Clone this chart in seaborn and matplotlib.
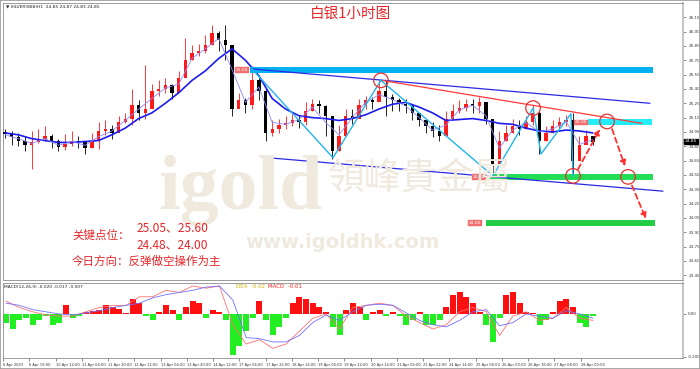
import numpy as np
import pandas as pd
import matplotlib
matplotlib.use("Agg")
import matplotlib.pyplot as plt
import seaborn as sns
from matplotlib.patches import Rectangle

sns.set_theme(style="white")
plt.rcParams['font.family'] = ['Noto Sans CJK SC', 'DejaVu Sans']

# ---------------- data ----------------
close = [24.93, 24.90, 24.86, 24.81, 24.84, 24.88, 24.91, 24.86, 24.79, 24.82,
         24.86, 24.84, 24.78, 24.86, 24.96, 24.98, 24.94, 25.05, 25.09, 25.23,
         25.15, 25.19, 25.38, 25.40, 25.44, 25.36, 25.51, 25.70, 25.78, 25.80,
         25.86, 25.99, 25.91, 25.86, 25.19, 25.28, 25.23, 25.49, 25.38, 24.94,
         24.98, 25.02, 25.04, 25.07, 25.05, 25.17, 25.24, 25.22, 25.12, 24.75,
         24.91, 25.12, 25.09, 25.23, 25.28, 25.26, 25.38, 25.32, 25.28, 25.24,
         25.22, 25.15, 25.07, 25.01, 24.96, 24.91, 25.09, 25.17, 25.20, 25.24,
         25.22, 25.26, 25.09, 24.60, 24.86, 24.94, 25.01, 24.98, 25.05, 25.15,
         24.86, 24.94, 25.01, 25.05, 25.07, 24.65, 24.81, 24.91, 24.85]
high = [24.98, 24.96, 24.94, 24.91, 24.96, 24.98, 25.01, 24.93, 24.88, 24.93,
        24.96, 24.91, 24.86, 24.94, 25.05, 25.07, 25.02, 25.12, 25.15, 25.40,
        25.28, 25.65, 25.45, 25.49, 25.51, 25.45, 25.59, 25.93, 25.86, 25.87,
        25.96, 26.07, 26.01, 26.07, 25.86, 25.36, 25.31, 25.64, 25.51, 25.40,
        25.07, 25.09, 25.12, 25.14, 25.12, 25.26, 25.30, 25.28, 25.23, 25.09,
        25.02, 25.19, 25.19, 25.30, 25.33, 25.32, 25.49, 25.49, 25.35, 25.31,
        25.30, 25.24, 25.15, 25.09, 25.05, 25.02, 25.17, 25.24, 25.28, 25.30,
        25.30, 25.32, 25.19, 25.07, 24.96, 25.02, 25.09, 25.07, 25.12, 25.23,
        25.17, 25.01, 25.07, 25.11, 25.13, 25.15, 24.91, 24.97, 24.89]
low = [24.89, 24.81, 24.80, 24.75, 24.56, 24.83, 24.86, 24.78, 24.75, 24.76,
       24.80, 24.78, 24.72, 24.78, 24.77, 24.92, 24.88, 24.96, 25.04, 25.02,
       25.07, 25.09, 25.28, 25.33, 25.36, 25.30, 25.38, 25.54, 25.70, 25.74,
       25.78, 25.86, 25.80, 25.70, 25.12, 25.22, 25.15, 25.19, 25.28, 24.86,
       24.91, 24.94, 24.98, 25.01, 24.99, 25.02, 25.17, 25.15, 24.91, 24.67,
       24.75, 25.05, 25.03, 25.12, 25.19, 25.19, 25.28, 25.12, 25.17, 25.17,
       25.15, 25.07, 25.01, 24.94, 24.90, 24.86, 25.02, 25.11, 25.15, 25.17,
       25.15, 25.15, 25.03, 24.49, 24.65, 24.86, 24.94, 24.92, 24.98, 25.02,
       24.72, 24.86, 24.94, 24.98, 25.01, 24.49, 24.67, 24.84, 24.81]
first_open = 24.95

ma_slow = [24.94, 24.92, 24.88, 24.86, 24.84, 24.84, 24.85, 24.86, 24.92, 24.99,
           25.09, 25.15, 25.25, 25.36, 25.49, 25.59, 25.72, 25.82, 25.70, 25.54,
           25.30, 25.19, 25.12, 25.10, 25.09, 25.07, 25.09, 25.13, 25.19, 25.24,
           25.26, 25.21, 25.15, 25.07, 25.08, 25.09, 25.07, 25.04, 25.03, 24.99,
           24.96, 24.95, 24.97, 24.96, 24.94]
ma_fast = [24.92, 24.88, 24.83, 24.88, 24.81, 24.85, 24.81, 24.90, 24.96, 25.07,
           25.19, 25.30, 25.41, 25.45, 25.72, 25.82, 25.93, 25.60, 25.26, 25.42,
           25.05, 25.03, 25.08, 25.21, 25.05, 24.92, 25.10, 25.26, 25.34, 25.29,
           25.22, 25.10, 24.97, 25.02, 25.18, 25.23, 25.12, 24.78, 24.97, 25.05,
           24.95, 24.98, 25.06, 24.82, 24.87]

macd_hist = [-0.04, -0.07, -0.03, -0.02, -0.05, -0.03, -0.01, -0.05, -0.04, 0.04,
             -0.02, -0.01, 0.01, 0.015, 0.02, 0.04, 0.03, 0.025, 0.005, 0.07,
             0.05, -0.01, -0.03, 0.01, 0.04, 0.02, -0.03, 0.03, 0.06, 0.05,
             -0.02, 0.02, 0.01, -0.03, -0.19, -0.15, -0.08, -0.02, 0.06, -0.03,
             -0.10, -0.06, -0.02, 0.05, 0.08, 0.07, 0.05, 0.03, 0.01, -0.06,
             -0.10, 0.02, 0.05, 0.03, -0.03, 0.01, 0.02, -0.01, 0.01, -0.01,
             -0.05, -0.03, 0.01, -0.05, -0.05, -0.03, 0.03, 0.09, 0.10, 0.08,
             0.05, 0.01, -0.05, -0.13, -0.02, 0.09, 0.10, 0.05, 0.01, 0.005,
             -0.05, -0.03, 0.01, 0.06, 0.07, 0.03, -0.04, -0.06, -0.01]
macd_dif = [0.06, 0.03, 0.01, -0.005, -0.01, -0.01, 0.01, 0.03, 0.04, 0.04,
            0.08, 0.08, 0.11, 0.10, 0.13, 0.12, 0.13, -0.05, -0.14, -0.12,
            -0.16, -0.14, -0.08, -0.02, 0.0, -0.07, 0.03, 0.04, 0.05, 0.04,
            -0.01, -0.04, -0.07, -0.05, 0.01, 0.03, 0.01, -0.10, -0.01, 0.01,
            -0.03, -0.02, 0.03, -0.02, -0.03]
macd_dea = [0.05, 0.04, 0.02, 0.01, 0.0, -0.005, 0.005, 0.015, 0.03, 0.04,
            0.05, 0.075, 0.09, 0.10, 0.11, 0.125, 0.13, 0.065, -0.11, -0.115,
            -0.13, -0.13, -0.10, -0.04, -0.005, -0.03, 0.01, 0.04, 0.045, 0.04,
            0.005, -0.03, -0.05, -0.06, -0.03, 0.01, 0.02, -0.055, -0.04, 0.0,
            -0.01, -0.02, 0.015, 0.0, -0.02]

x_labels = ["6 Apr 2023", "6 Apr 19:00", "10 Apr 12:00", "11 Apr 04:00", "11 Apr 20:00",
            "12 Apr 12:00", "13 Apr 04:00", "13 Apr 20:00", "14 Apr 12:00", "17 Apr 06:00",
            "17 Apr 22:00", "18 Apr 14:00", "19 Apr 06:00", "19 Apr 22:00", "20 Apr 14:00",
            "21 Apr 06:00", "21 Apr 22:00", "24 Apr 14:00", "25 Apr 06:00", "26 Apr 00:00",
            "26 Apr 16:00", "27 Apr 08:00", "28 Apr 00:00"]
price_ticks = [26.15, 26.00, 25.85, 25.70, 25.55, 25.40, 25.25, 25.10, 24.95, 24.80,
               24.65, 24.50, 24.35, 24.20, 24.05, 23.90, 23.75, 23.60, 23.45]
macd_ticks = [0.0, -0.2]
macd_tick_labels = ["0.00", "-0.200"]

# key levels (band start bar, band end bar, price)
band_levels = [25.60, 25.05, 24.48, 24.00]
band_start = [146.7, 349.1, 290.4, 288.0]
band_end = [388.0, 387.4, 388.0, 389.2]
band_labels = ["25.60", "25.05", "24.48", "24.00"]
label_bar = [141.9, 345.0, 284.0, 281.6]

channel_upper_bar = [147.9, 386.2]
channel_upper_price = [25.61, 25.25]
channel_lower_bar = [157.5, 394.0]
channel_lower_price = [24.68, 24.33]
red_line_bar = [225.7, 381.4]
red_line_price = [25.49, 25.04]
zigzag_bar = [147.9, 196.4, 225.1, 292.2, 316.2, 321.0, 338.9, 340.1]
zigzag_price = [25.61, 24.68, 25.49, 24.49, 25.20, 24.72, 25.14, 24.49]
circle_bar = [225.1, 316.2, 360.5, 340.1, 373.1]
circle_price = [25.49, 25.20, 25.06, 24.49, 24.48]
arrow_from_bar = [343.1, 363.5, 375.4]
arrow_from_price = [24.56, 24.98, 24.39]
arrow_to_bar = [356.3, 371.3, 383.8]
arrow_to_price = [24.98, 24.59, 24.04]

last_price = 24.85

# ---------------- layout ----------------
W, H = 700, 369
fig = plt.figure(figsize=(W / 100, H / 100), dpi=100)
fig.patch.set_facecolor("white")

def fx(px):
    return px / W

def fy(py):
    return 1 - py / H

BAR_PX = 1.67
X0 = 5.0
xlim = ((3 - X0) / BAR_PX, (683 - X0) / BAR_PX)

ax = fig.add_axes([fx(3), fy(280), fx(683) - fx(3), fy(3) - fy(280)])
axm = fig.add_axes([fx(3), fy(358), fx(683) - fx(3), fy(283) - fy(358)])

CANDLE_STEP = 4
MA_STEP = 8
cx = np.arange(len(close)) * CANDLE_STEP
mx = np.arange(len(ma_slow)) * MA_STEP

WM = "#efe9de"
# watermark
fig.text(fx(158), fy(190), "igold", fontsize=56, fontweight="bold", family="Liberation Serif",
         color=WM, ha="left", va="center", zorder=0)
fig.text(fx(328), fy(178), "領峰貴金屬", fontsize=26.5, family="Noto Sans CJK TC",
         color=WM, ha="left", va="center", zorder=0)
fig.text(fx(245), fy(242), "www.igoldhk.com", fontsize=14, fontweight="bold", family="DejaVu Sans",
         color=WM, ha="left", va="center", zorder=0)
ax.set_facecolor("none")
axm.set_facecolor("none")

# candles
opens = [first_open] + close[:-1]
df = pd.DataFrame({"x": cx, "o": opens, "h": high, "l": low, "c": close})
df["up"] = df["c"] >= df["o"]
cols = np.where(df["up"], "#ff1a1a", "#000000")
ax.vlines(df["x"], df["l"], df["h"], colors=cols, linewidth=0.6, zorder=3)
body = (df["c"] - df["o"]).abs().clip(lower=0.006)
ax.bar(df["x"], body, bottom=np.minimum(df["o"], df["c"]), width=2.0, color=cols,
       linewidth=0, zorder=4)

# moving averages
sns.lineplot(x=mx, y=ma_slow, ax=ax, color="#1c1cf0", linewidth=1.2, zorder=5)
sns.lineplot(x=mx, y=ma_fast, ax=ax, color="#8a8aff", linewidth=0.6, zorder=5)

# bands
band_colors = ["#00b0f0", "#22eefa", "#22dd55", "#22cc44"]
for lvl, b0, b1, c in zip(band_levels, band_start, band_end, band_colors):
    ax.hlines(lvl, b0, b1, colors=c, linewidth=4.3, zorder=6)
for lvl, lb, txt in zip(band_levels, label_bar, band_labels):
    ax.text(lb, lvl, txt, fontsize=3.2, color="white", family="DejaVu Sans", ha="center",
            va="center", zorder=8,
            bbox=dict(boxstyle="square,pad=0.2", fc="#f07070", ec="#f07070", lw=0.3))

# channel / trend lines
sns.lineplot(x=channel_upper_bar, y=channel_upper_price, ax=ax, color="#2a2ae6", linewidth=0.9, zorder=6)
sns.lineplot(x=channel_lower_bar, y=channel_lower_price, ax=ax, color="#2a2ae6", linewidth=0.9, zorder=6)
sns.lineplot(x=red_line_bar, y=red_line_price, ax=ax, color="#ff3a3a", linewidth=0.9, zorder=6)
ax.plot(zigzag_bar, zigzag_price, color="#22b4ee", linewidth=1.0, zorder=6)

ax.scatter(circle_bar, circle_price, s=110, facecolors="none", edgecolors="#e83030",
           linewidths=0.9, zorder=7)
for xb, yb, xe, ye in zip(arrow_from_bar, arrow_from_price, arrow_to_bar, arrow_to_price):
    ax.annotate("", xy=(xe, ye), xytext=(xb, yb), zorder=7,
                arrowprops=dict(arrowstyle="-|>", color="#ff3030", lw=1.3, ls=(0, (3, 2)),
                                mutation_scale=8, shrinkA=0, shrinkB=0))

ax.set_xlim(*xlim)
ax.set_ylim(23.40, 26.30)
ax.set_xticks([])
ax.yaxis.tick_right()
ax.set_yticks(price_ticks)
ax.set_yticklabels([f"{t:.2f}" for t in price_ticks], family="DejaVu Sans")
ax.tick_params(axis="y", right=True, length=2, width=0.4, labelsize=3.0, pad=2,
               colors="#333333")
ax.text(1.003, (last_price - 23.40) / (26.30 - 23.40), f"{last_price:.2f}", transform=ax.transAxes,
        fontsize=3.2, color="white", family="DejaVu Sans", ha="left", va="center",
        bbox=dict(boxstyle="square,pad=0.2", fc="black", ec="black"))

# MACD
hcols = np.where(np.array(macd_hist) >= 0, "#ff1010", "#22ee22")
axm.bar(cx, macd_hist, width=3.6, color=hcols, linewidth=0, zorder=2)
sns.lineplot(x=mx, y=macd_dif, ax=axm, color="#ff7070", linewidth=0.6, zorder=3)
sns.lineplot(x=mx, y=macd_dea, ax=axm, color="#7070ff", linewidth=0.6, zorder=3)
axm.set_xlim(*xlim)
axm.set_ylim(-0.205, 0.144)
axm.yaxis.tick_right()
axm.set_yticks(macd_ticks)
axm.set_yticklabels(macd_tick_labels, family="DejaVu Sans")
axm.tick_params(axis="y", right=True, length=2, width=0.4, labelsize=2.8, pad=1.5, colors="#333333")
tick_pos = [(2 + 26.3 * k - X0) / BAR_PX for k in range(len(x_labels))]
axm.set_xticks(tick_pos)
axm.set_xticklabels(x_labels, family="DejaVu Sans", ha="left")
axm.tick_params(axis="x", bottom=True, length=2, width=0.4, labelsize=2.6, pad=1.5, colors="#333333")

for a in (ax, axm):
    for s in a.spines.values():
        s.set_color("#8c8c8c")
        s.set_linewidth(0.6)
    a.spines["right"].set_color("#c4c4c4")
    a.spines["right"].set_linewidth(1.4)

# texts
fig.text(fx(6), fy(6), "\u25bc SILVER(888)H1  24.85 24.87 24.83 24.85", fontsize=3.2,
         family="DejaVu Sans", color="#222222", ha="left", va="center")
fig.text(fx(4), fy(287), "MACD(12,26,9) -0.020 -0.017 -0.007", fontsize=3.2,
         family="DejaVu Sans", color="#222222", ha="left", va="center")
fig.text(fx(236), fy(287), "DEA  -0.02", fontsize=4, family="DejaVu Sans",
         color="#d4b000", ha="left", va="center")
fig.text(fx(268), fy(287), "MACD  -0.01", fontsize=4, family="DejaVu Sans",
         color="#ff2020", ha="left", va="center")

fig.text(fx(351), fy(14), "白银1小时图", fontsize=10.5, color="#e8262a", ha="center", va="center")
fig.text(fx(72), fy(235), "关键点位：", fontsize=8.3, color="#e8262a", ha="left", va="center")
fig.text(fx(137), fy(228), "25.05、25.60", fontsize=8.6, color="#e8262a", ha="left", va="center")
fig.text(fx(137), fy(245), "24.48、24.00", fontsize=8.6, color="#e8262a", ha="left", va="center")
fig.text(fx(72), fy(261), "今日方向：反弹做空操作为主", fontsize=8.3, color="#e8262a",
         ha="left", va="center")

fig.add_artist(Rectangle((0, 0), 1, 1, transform=fig.transFigure, fill=False,
                         ec="#9a9a9a", lw=1.2))

fig.savefig("out.png", dpi=100)
